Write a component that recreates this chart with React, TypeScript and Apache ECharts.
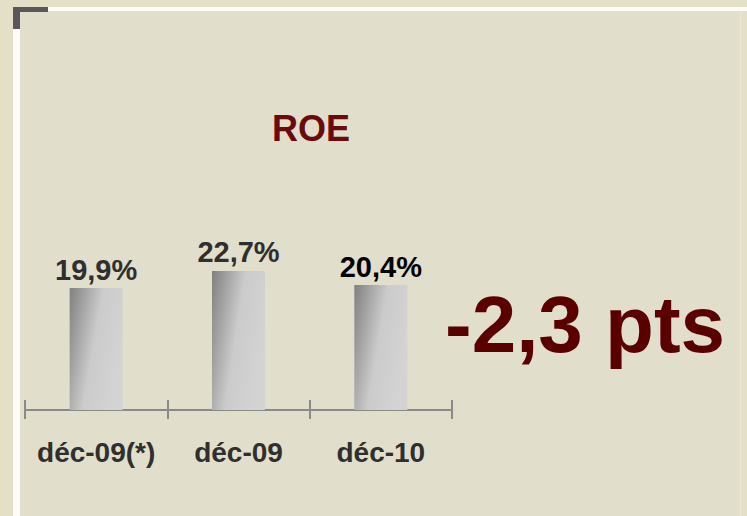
import React, { useEffect, useRef } from "react";
import * as echarts from "echarts";

const categories = ["déc-09(*)", "déc-09", "déc-10"];
const roeValues = [19.9, 22.7, 20.4];
const valueLabels = ["19,9%", "22,7%", "20,4%"];
const labelColors = ["#2f2f2f", "#2f2f2f", "#000000"];
const titleText = "ROE";
const deltaText = "-2,3 pts";

const FONT = "'Liberation Sans', Arial, sans-serif";

export default function App() {
  const ref = useRef<HTMLDivElement>(null);
  useEffect(() => {
    if (!ref.current) return;
    const chart = echarts.init(ref.current, undefined, { renderer: "svg" });
    const barGradient = new echarts.graphic.LinearGradient(0, 0, 1, 0.4, [
      { offset: 0, color: "#808080" },
      { offset: 0.55, color: "#cbcbcb" },
      { offset: 1, color: "#d3d3d3" },
    ]);
    chart.setOption({
      animation: false,
      backgroundColor: "#e4dfc7",
      title: {
        text: titleText,
        left: 267,
        top: 105,
        textStyle: { color: "#6a0a0a", fontSize: 36, fontWeight: "bold", fontFamily: FONT },
      },
      graphic: [
        { type: "rect", shape: { x: 20, y: 11, width: 720, height: 505 }, style: { fill: "#e1decb" }, z: -10 },
        { type: "rect", shape: { x: 48, y: 7, width: 699, height: 4 }, style: { fill: "#fdfcf6" }, z: -5 },
        { type: "rect", shape: { x: 13, y: 28, width: 7, height: 488 }, style: { fill: "#fdfcf6" }, z: -5 },
        { type: "rect", shape: { x: 13, y: 7, width: 35, height: 5 }, style: { fill: "#5a5659" }, z: -4 },
        { type: "rect", shape: { x: 13, y: 7, width: 7, height: 22 }, style: { fill: "#5a5659" }, z: -4 },
        { type: "rect", shape: { x: 740, y: 11, width: 1, height: 505 }, style: { fill: "#ebe8d8" }, z: -4 },
        {
          type: "text",
          x: 445,
          y: 324,
          style: {
            text: deltaText,
            fill: "#5a0000",
            font: `bold 80px ${FONT}`,
            textVerticalAlign: "middle",
          },
        },
      ],
      grid: { left: 25, right: 295, top: 165, bottom: 106 },
      xAxis: [
        {
          type: "category",
          data: categories,
          axisLine: { lineStyle: { color: "#8a8a8a", width: 2 } },
          axisTick: { show: true, alignWithLabel: false, length: 9, lineStyle: { color: "#8a8a8a", width: 2 } },
          axisLabel: {
            interval: 0,
            hideOverlap: false,
            margin: 28,
            color: "#2f2f2f",
            fontSize: 28,
            fontWeight: "bold",
            fontFamily: FONT,
          },
        },
        {
          type: "category",
          data: categories,
          position: "bottom",
          axisLine: { show: false },
          axisTick: { show: true, inside: true, length: 10, lineStyle: { color: "#8a8a8a", width: 2 } },
          axisLabel: { show: false },
        },
      ],
      yAxis: { type: "value", min: 0, max: 40, show: false, splitLine: { show: false } },
      series: [
        {
          type: "bar",
          xAxisIndex: 0,
          barWidth: 53,
          data: roeValues.map((v, i) => ({
            value: v,
            label: { color: labelColors[i] },
          })),
          itemStyle: { color: barGradient },
          label: {
            show: true,
            position: "top",
            distance: 4,
            fontSize: 29,
            fontWeight: "bold",
            fontFamily: FONT,
            formatter: (p: any) => valueLabels[p.dataIndex],
          },
        },
      ],
    });
    return () => chart.dispose();
  }, []);
  return (
    <div
      ref={ref}
      style={{ position: "fixed", left: 0, top: 0, width: 747, height: 516 }}
    />
  );
}
